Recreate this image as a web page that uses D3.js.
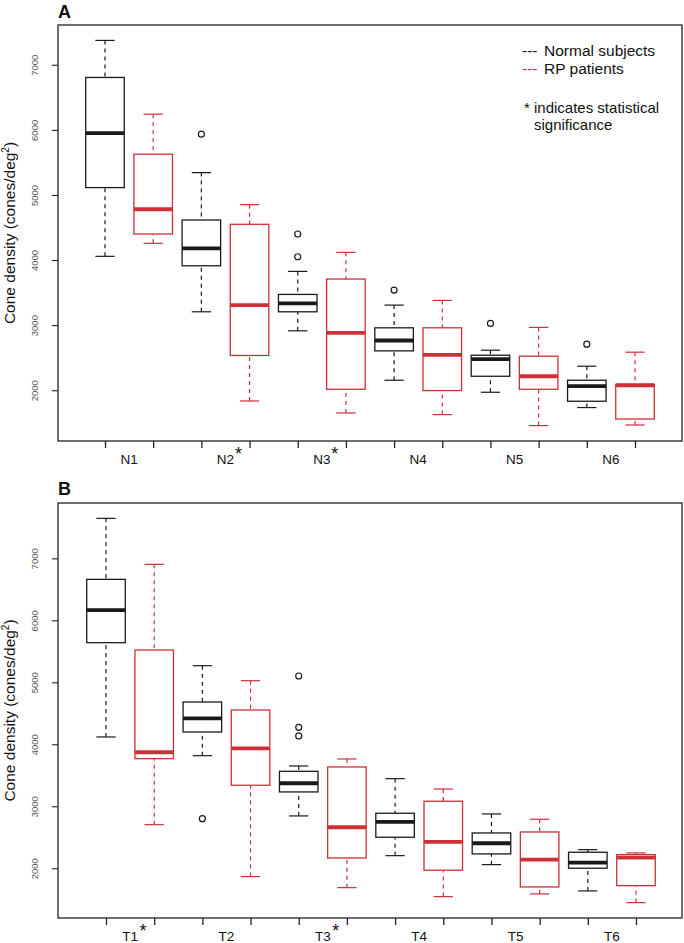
<!DOCTYPE html>
<html>
<head>
<meta charset="utf-8">
<script src="https://cdn.jsdelivr.net/npm/d3@7"></script>
<style>
  html, body { margin: 0; padding: 0; background: #fff; }
  svg { display: block; font-family: "Liberation Sans", Arial, Helvetica, sans-serif; }
</style>
</head>
<body>
<svg id="chart" width="684" height="943"></svg>
<script>
// ---------------- DATA ----------------
// each stat row: [lower whisker, Q1, median, Q3, upper whisker]
const catsA = ["N1", "N2", "N3", "N4", "N5", "N6"];
const sigA = [false, true, true, false, false, false];
const normalA = [
  [4057, 5113, 5949, 6805, 7374],
  [3205, 3912, 4180, 4615, 5343],
  [2913, 3205, 3334, 3472, 3826],
  [2154, 2605, 2764, 2959, 3308],
  [1969, 2215, 2477, 2538, 2615],
  [1734, 1831, 2062, 2154, 2369]
];
const rpA = [
  [4257, 4400, 4780, 5626, 6241],
  [1835, 2534, 3308, 4549, 4851],
  [1651, 2015, 2882, 3708, 4118],
  [1626, 1995, 2543, 2959, 3380],
  [1457, 2015, 2215, 2523, 2965],
  [1466, 1558, 2077, 2088, 2585]
];
const normalOutA = [[], [5934], [4400, 4051], [3538], [3026], [2708]];
const rpOutA = [[], [], [], [], [], []];

const catsB = ["T1", "T2", "T3", "T4", "T5", "T6"];
const sigB = [true, false, true, false, false, false];
const normalB = [
  [4118, 5639, 6166, 6661, 7645],
  [3816, 4198, 4419, 4682, 5268],
  [2844, 3231, 3371, 3564, 3650],
  [2203, 2500, 2747, 2887, 3445],
  [2058, 2231, 2403, 2569, 2876],
  [1634, 2000, 2090, 2258, 2300]
];
const rpB = [
  [2703, 3768, 3871, 5521, 6903],
  [1865, 3339, 3935, 4553, 5026],
  [1687, 2166, 2661, 3634, 3763],
  [1542, 1968, 2424, 3081, 3279],
  [1586, 1698, 2139, 2585, 2790],
  [1445, 1719, 2171, 2220, 2247]
];
const normalOutB = [[], [2800], [5102, 4274, 4134], [], [], []];
const rpOutB = [[], [], [], [], [], []];

const yTicks = [2000, 3000, 4000, 5000, 6000, 7000];
const seriesNames = ["Normal subjects", "RP patients"];
const seriesColors = ["#1a1a1a", "#cf2f36"];
const yLabel = "Cone density (cones/deg";

// ---------------- DRAW ----------------
const svg = d3.select("#chart");

function panel(cfg) {
  const { letter, letterY, top, bottom, left, right, cats, sig, normal, rp, normalOut, rpOut, x1, x12 } = cfg;
  const g = svg.append("g");

  // y domain like R: data range padded by 4%
  const all = [].concat(...normal, ...rp, ...normalOut, ...rpOut);
  const lo = d3.min(all), hi = d3.max(all), pad = (hi - lo) * 0.04;
  const y = d3.scaleLinear().domain([lo - pad, hi + pad]).range([bottom, top]);
  const x = d3.scaleLinear().domain([1, 12]).range([x1, x12]);
  const half = (x(2) - x(1)) * 0.4;

  // frame
  g.append("rect").attr("x", left).attr("y", top)
    .attr("width", right - left).attr("height", bottom - top)
    .attr("fill", "none").attr("stroke", "#222").attr("stroke-width", 1.3);

  // y axis ticks + labels
  const yAxis = d3.axisLeft(y).tickValues(yTicks).tickSize(6).tickFormat(d3.format("d"));
  const ya = g.append("g").attr("transform", `translate(${left},0)`).call(yAxis);
  ya.select(".domain").remove();
  ya.selectAll(".tick line").attr("stroke", "#222").attr("stroke-width", 1.1);
  ya.selectAll(".tick text").remove();
  ya.selectAll(".tick").append("text")
    .attr("transform", "translate(-20,0) rotate(-90)")
    .attr("text-anchor", "middle").attr("fill", "#555")
    .attr("font-size", 9.5).text(d => d);

  // x ticks
  const positions = d3.range(1, 13);
  const xAxis = d3.axisBottom(x).tickValues(positions).tickSize(7).tickFormat("");
  const xa = g.append("g").attr("transform", `translate(0,${bottom})`).call(xAxis);
  xa.select(".domain").remove();
  xa.selectAll(".tick line").attr("stroke", "#222").attr("stroke-width", 1.3);

  // category labels
  cats.forEach((c, i) => {
    const cx = x(2 * i + 1.5);
    g.append("text").attr("x", cx).attr("y", bottom + 23)
      .attr("text-anchor", "middle").attr("font-size", 13.5).attr("fill", "#111").text(c);
    if (sig[i]) {
      g.append("text").attr("x", cx + 9.5).attr("y", bottom + 19)
        .attr("font-size", 18).attr("fill", "#111").text("*");
    }
  });

  // boxes
  function drawBox(stats, outs, pos, color) {
    const [wl, q1, med, q3, wh] = stats;
    const cx = x(pos);
    const bg = g.append("g");
    [[wh, q3], [wl, q1]].forEach(([a, b]) => {
      bg.append("line").attr("x1", cx).attr("x2", cx).attr("y1", y(a)).attr("y2", y(b))
        .attr("stroke", color).attr("stroke-width", 1.2).attr("stroke-dasharray", "4,4");
      bg.append("line").attr("x1", cx - half / 2).attr("x2", cx + half / 2)
        .attr("y1", y(a)).attr("y2", y(a)).attr("stroke", color).attr("stroke-width", 1.2);
    });
    bg.append("rect").attr("x", cx - half).attr("width", 2 * half)
      .attr("y", y(q3)).attr("height", y(q1) - y(q3))
      .attr("fill", "#fff").attr("stroke", color).attr("stroke-width", 1.3);
    bg.append("line").attr("x1", cx - half).attr("x2", cx + half)
      .attr("y1", y(med)).attr("y2", y(med)).attr("stroke", color).attr("stroke-width", 3.8);
    outs.forEach(o => {
      bg.append("circle").attr("cx", cx).attr("cy", y(o)).attr("r", 3)
        .attr("fill", "none").attr("stroke", color).attr("stroke-width", 1.2);
    });
  }
  cats.forEach((c, i) => {
    drawBox(normal[i], normalOut[i], 2 * i + 1, seriesColors[0]);
    drawBox(rp[i], rpOut[i], 2 * i + 2, seriesColors[1]);
  });

  // panel letter
  g.append("text").attr("x", left).attr("y", letterY)
    .attr("font-size", 18).attr("font-weight", "bold").attr("fill", "#111").text(letter);

  // y label
  const yl = g.append("text")
    .attr("transform", `translate(15,${(top + bottom) / 2}) rotate(-90)`)
    .attr("text-anchor", "middle").attr("font-size", 15.5).attr("fill", "#111");
  yl.append("tspan").text(yLabel);
  yl.append("tspan").attr("font-size", 10).attr("dy", -6).text("2");
  yl.append("tspan").attr("dy", 6).text(")");

  return g;
}

const gA = panel({ letter: "A", letterY: 18, top: 25, bottom: 441, left: 58, right: 682,
  cats: catsA, sig: sigA, normal: normalA, rp: rpA, normalOut: normalOutA, rpOut: rpOutA,
  x1: 105, x12: 635 });
panel({ letter: "B", letterY: 495, top: 503, bottom: 918, left: 58, right: 682,
  cats: catsB, sig: sigB, normal: normalB, rp: rpB, normalOut: normalOutB, rpOut: rpOutB,
  x1: 106, x12: 636 });

// legend (panel A)
const leg = gA.append("g").attr("font-size", 15.5);
seriesNames.forEach((n, i) => {
  const ly = 56 + i * 18;
  leg.append("text").attr("x", 522).attr("y", ly).attr("fill", seriesColors[i]).text("---");
  leg.append("text").attr("x", 544).attr("y", ly).attr("fill", "#111").text(n);
});
leg.append("text").attr("x", 524).attr("y", 113).attr("font-size", 15).attr("fill", "#111").text("* indicates statistical");
leg.append("text").attr("x", 534).attr("y", 130).attr("font-size", 15).attr("fill", "#111").text("significance");
</script>
</body>
</html>
